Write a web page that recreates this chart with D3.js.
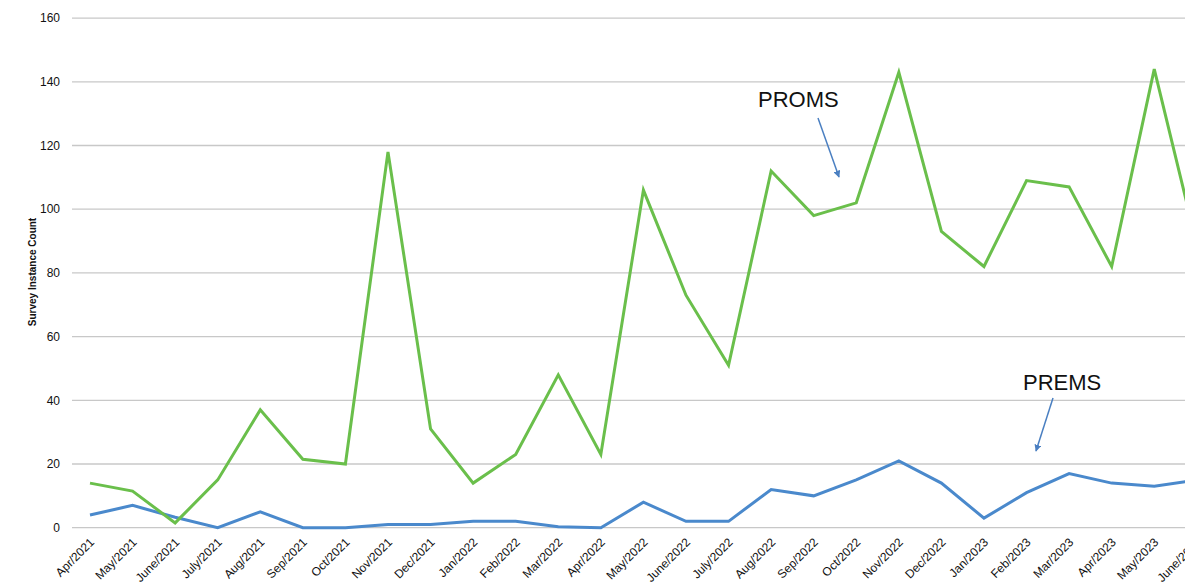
<!DOCTYPE html>
<meta charset="utf-8">
<style>
body { margin: 0; background: #fff; }
text { font-family: "Liberation Sans", Arial, sans-serif; fill: #111; }
.grid line { stroke: #c8c8c8; stroke-width: 1.3; }
</style>
<svg width="1185" height="582"></svg>
<script src="https://d3js.org/d3.v7.min.js"></script>
<script>

// months on the x axis
var months = ["Apr/2021","May/2021","June/2021","July/2021","Aug/2021","Sep/2021","Oct/2021",
  "Nov/2021","Dec/2021","Jan/2022","Feb/2022","Mar/2022","Apr/2022","May/2022","June/2022",
  "July/2022","Aug/2022","Sep/2022","Oct/2022","Nov/2022","Dec/2022","Jan/2023","Feb/2023",
  "Mar/2023","Apr/2023","May/2023","June/2023"];

var proms = [14,11.5,1.5,15,37,21.5,20,118,31,14,23,48,23,106,73,51,112,98,102,143,93,82,109,107,82,144,89];
var prems = [4,7,3.3,0,5,0,0,1,1,2,2,0.3,0,8,2,2,12,10,15,21,14,3,11,17,14,13,15];

var yTicks = [0,20,40,60,80,100,120,140,160];

var svg = d3.select("svg"),
    width = +svg.attr("width"),
    height = +svg.attr("height");

var gridLeft = 72;

var x = d3.scalePoint()
    .domain(months)
    .range([90, 90 + 26 * 42.57]);

var y = d3.scaleLinear()
    .domain([0, 160])
    .range([527.7, 18.1]);

// gridlines
svg.append("g").attr("class", "grid")
  .selectAll("line")
  .data(yTicks)
  .enter().append("line")
    .attr("x1", gridLeft)
    .attr("x2", width)
    .attr("y1", function(d) { return y(d); })
    .attr("y2", function(d) { return y(d); });

// y tick labels
svg.append("g")
  .selectAll("text")
  .data(yTicks)
  .enter().append("text")
    .attr("x", 60)
    .attr("y", function(d) { return y(d); })
    .attr("dy", "0.35em")
    .attr("text-anchor", "end")
    .style("font-size", "12px")
    .text(function(d) { return d; });

// y title
svg.append("text")
  .attr("transform", "translate(36,272) rotate(-90)")
  .attr("text-anchor", "middle")
  .style("font-size", "10px")
  .style("font-weight", "bold")
  .text("Survey Instance Count");

// x labels (the last ones run off the bottom, as in the original)
svg.append("g")
  .selectAll("text")
  .data(months)
  .enter().append("text")
    .attr("transform", function(d) { return "translate(" + (x(d) + 5) + ",543) rotate(-45)"; })
    .attr("text-anchor", "end")
    .style("font-size", "12px")
    .text(function(d) { return d; });

var line = d3.line()
    .x(function(d, i) { return x(months[i]); })
    .y(function(d) { return y(d); });

svg.append("path")
  .datum(prems)
  .attr("fill", "none")
  .attr("stroke", "#4a89cc")
  .attr("stroke-width", 3)
  .attr("d", line);

svg.append("path")
  .datum(proms)
  .attr("fill", "none")
  .attr("stroke", "#6abf4b")
  .attr("stroke-width", 3)
  .attr("d", line);

// annotations
var defs = svg.append("defs");
defs.append("marker")
    .attr("id", "arr")
    .attr("viewBox", "0 0 10 10")
    .attr("refX", 9).attr("refY", 5)
    .attr("markerWidth", 7).attr("markerHeight", 7)
    .attr("markerUnits", "userSpaceOnUse")
    .attr("orient", "auto")
  .append("path")
    .attr("d", "M0,0L10,5L0,10Z")
    .attr("fill", "#4a7fc1");

function note(label, tx, ty, ax1, ay1, ax2, ay2) {
  svg.append("text")
    .attr("x", tx).attr("y", ty)
    .style("font-size", "22px")
    .text(label);
  svg.append("line")
    .attr("x1", ax1).attr("y1", ay1)
    .attr("x2", ax2).attr("y2", ay2)
    .attr("stroke", "#4a7fc1")
    .attr("stroke-width", 1.5)
    .attr("marker-end", "url(#arr)");
}

note("PROMS", 758, 107, 818, 118, 839, 177);
note("PREMS", 1023, 389.5, 1053, 398, 1036, 451);

</script>
